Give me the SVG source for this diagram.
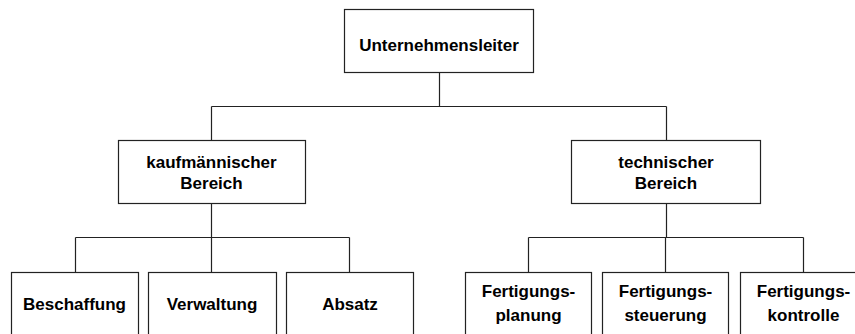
<svg xmlns="http://www.w3.org/2000/svg" width="855" height="334" viewBox="0 0 855 334">
<style>
.box{fill:#fff;stroke:#222;stroke-width:1.2}
.ln{fill:none;stroke:#222;stroke-width:1.2}
text{font-family:"Liberation Sans",Arial,sans-serif;font-weight:bold;font-size:17px;fill:#000;text-anchor:middle}
</style>
<rect width="855" height="334" fill="#fff"/>
<g id="connectors">
<path class="ln" d="M439.5 72.5V106.5M211.5 106.5H666.5M211.5 106.5V140.5M666.5 106.5V140.5"/>
<path class="ln" d="M211.5 203.5V237.5M75.5 237.5H349.5M75.5 237.5V272.5M211.5 237.5V272.5M349.5 237.5V272.5"/>
<path class="ln" d="M666.5 203.5V237.5M528.5 237.5H803.5M528.5 237.5V272.5M665.5 237.5V272.5M803.5 237.5V272.5"/>
</g>
<g id="unternehmensleiter">
<rect class="box" x="344.5" y="9.5" width="189" height="63"/>
<text x="439" y="51">Unternehmensleiter</text>
</g>
<g id="kaufmaennisch">
<rect class="box" x="118.5" y="140.5" width="187" height="63"/>
<text x="211.5" y="168">kaufmännischer</text>
<text x="211.5" y="189">Bereich</text>
</g>
<g id="technisch">
<rect class="box" x="571.5" y="140.5" width="189" height="63"/>
<text x="666" y="168">technischer</text>
<text x="666" y="189">Bereich</text>
</g>
<g id="beschaffung">
<rect class="box" x="11.5" y="272.5" width="127" height="70"/>
<text x="74.5" y="310">Beschaffung</text>
</g>
<g id="verwaltung">
<rect class="box" x="148.5" y="272.5" width="128" height="70"/>
<text x="212" y="310">Verwaltung</text>
</g>
<g id="absatz">
<rect class="box" x="286.5" y="272.5" width="127" height="70"/>
<text x="350" y="310">Absatz</text>
</g>
<g id="fertigungsplanung">
<rect class="box" x="465.5" y="272.5" width="126" height="70"/>
<text x="528.5" y="297">Fertigungs-</text>
<text x="528.5" y="321">planung</text>
</g>
<g id="fertigungssteuerung">
<rect class="box" x="602.5" y="272.5" width="126" height="70"/>
<text x="665.5" y="297">Fertigungs-</text>
<text x="665.5" y="321">steuerung</text>
</g>
<g id="fertigungskontrolle">
<rect class="box" x="740.5" y="272.5" width="126" height="70"/>
<text x="803.5" y="297">Fertigungs-</text>
<text x="803.5" y="321">kontrolle</text>
</g>
</svg>
